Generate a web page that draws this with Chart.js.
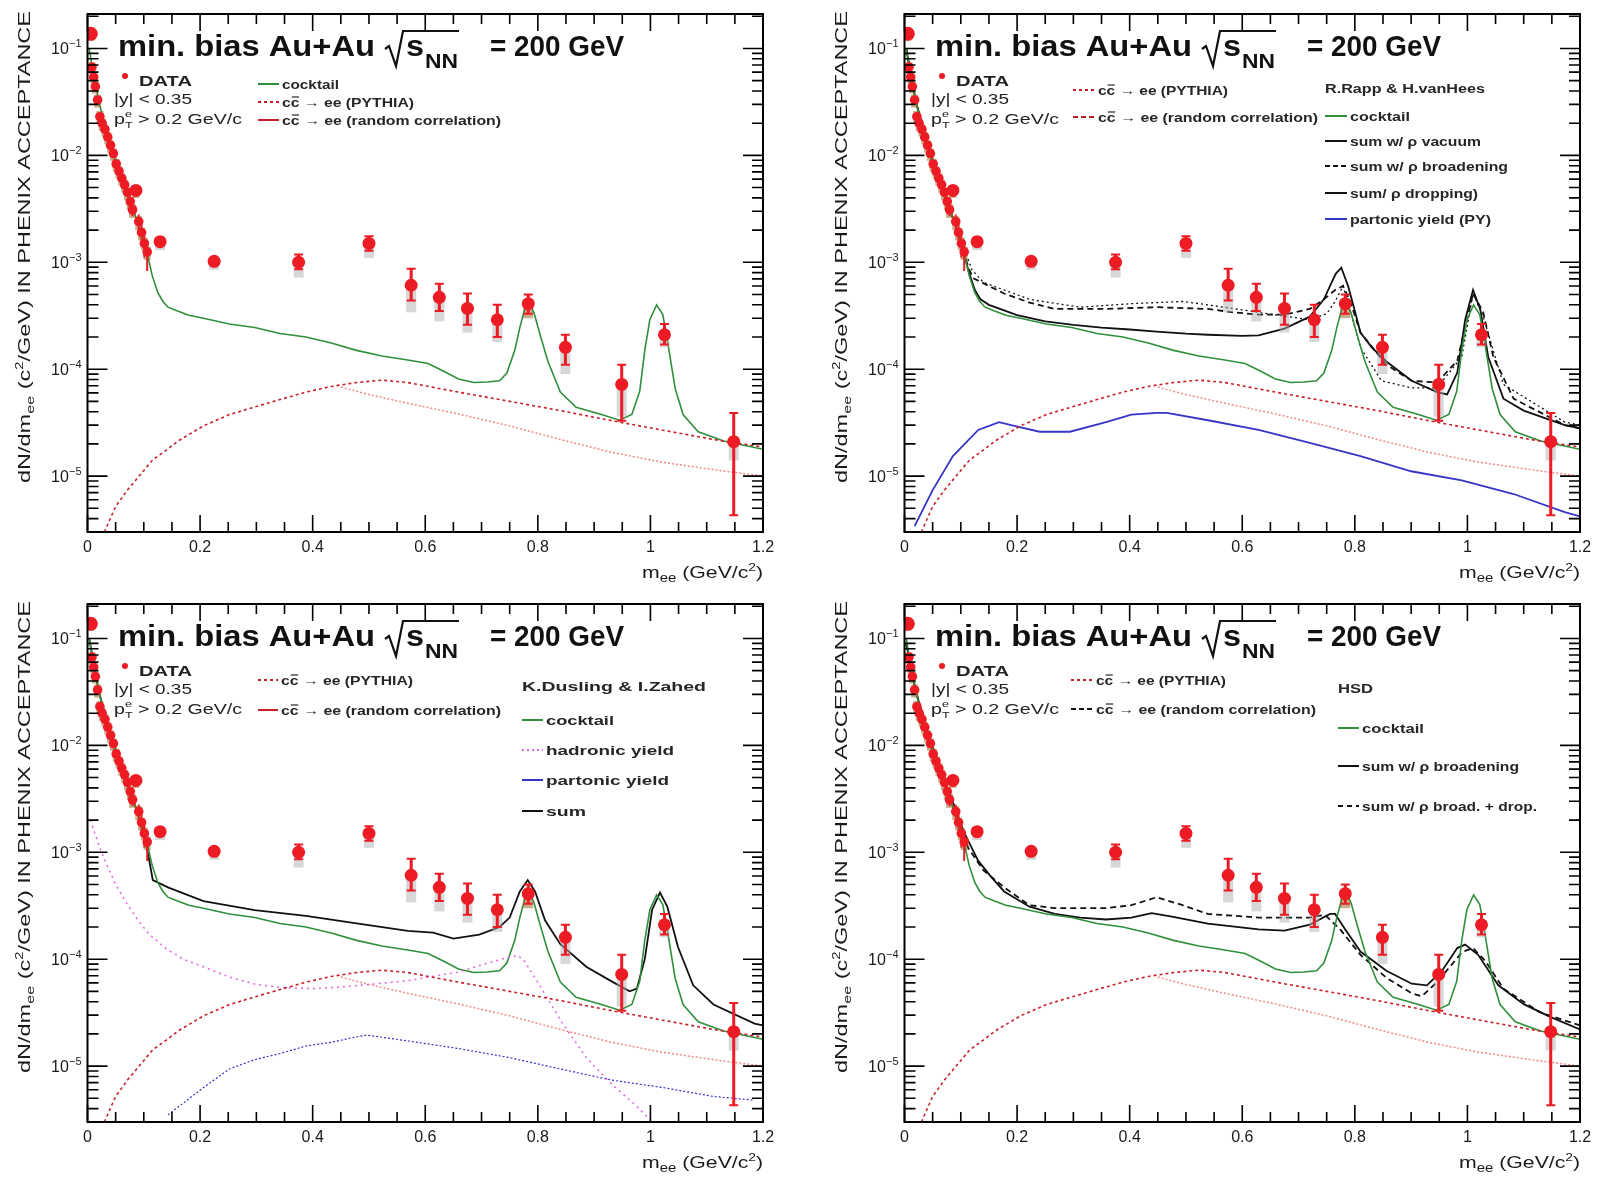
<!DOCTYPE html>
<html>
<head>
<meta charset="utf-8">
<script src="https://cdn.jsdelivr.net/npm/chart.js@4.4.1/dist/chart.umd.min.js"></script>
<style>
html, body { margin: 0; padding: 0; background: #fff; width: 1599px; height: 1183px; overflow: hidden; }
canvas { position: absolute; }
</style>
</head>
<body>
<canvas id="p1" width="782" height="593" style="left:0px;top:0px"></canvas>
<canvas id="p2" width="782" height="593" style="left:817px;top:0px"></canvas>
<canvas id="p3" width="782" height="593" style="left:0px;top:590px"></canvas>
<canvas id="p4" width="782" height="593" style="left:817px;top:590px"></canvas>
<script>
// ---------- measured dielectron yield (shared by all four panels) ----------
const dataMass = [0.006, 0.008, 0.011, 0.014, 0.018, 0.022, 0.026, 0.031, 0.036, 0.041, 0.046, 0.051,
  0.056, 0.061, 0.066, 0.071, 0.076, 0.080, 0.086, 0.091, 0.096, 0.101, 0.106,
  0.129, 0.225, 0.375, 0.500, 0.575, 0.625, 0.675, 0.728, 0.783, 0.849, 0.949, 1.025, 1.148];
const dataYield = [0.137, 0.067, 0.054, 0.044, 0.033, 0.023, 0.020, 0.0175, 0.0148, 0.0124, 0.0104, 0.0083,
  0.0071, 0.0061, 0.0053, 0.0045, 0.0037, 0.0031, 0.0047, 0.0024, 0.0019, 0.0015, 0.00125,
  0.00156, 0.00102, 0.00100, 0.00150, 0.00061, 0.00047, 0.00037, 0.00029, 0.00041, 0.00016, 0.000072, 0.00021, 0.000021];
const statLow = [0.128, 0.063, 0.051, 0.042, 0.031, 0.022, 0.019, 0.0166, 0.0140, 0.0117, 0.0098, 0.0078,
  0.0066, 0.0057, 0.0049, 0.0041, 0.0033, 0.0027, 0.0043, 0.0020, 0.0016, 0.0011, 0.00083,
  0.00145, 0.00095, 0.00086, 0.00128, 0.00044, 0.00035, 0.00026, 0.00020, 0.00033, 0.00011, 0.000033, 0.00017, 0.0000043];
const statHigh = [0.146, 0.071, 0.057, 0.046, 0.035, 0.024, 0.021, 0.0184, 0.0156, 0.0131, 0.0110, 0.0088,
  0.0076, 0.0065, 0.0057, 0.0049, 0.0041, 0.0035, 0.0051, 0.0028, 0.0023, 0.0019, 0.0016,
  0.00168, 0.00109, 0.00118, 0.00175, 0.00087, 0.00063, 0.00051, 0.00040, 0.00050, 0.00021, 0.00011, 0.000265, 0.000039];
const sysLow = [0.118, 0.058, 0.047, 0.038, 0.028, 0.020, 0.017, 0.015, 0.0127, 0.0106, 0.0089, 0.0071,
  0.0061, 0.0052, 0.0045, 0.0038, 0.0031, 0.0026, 0.0040, 0.0020, 0.0016, 0.0013, 0.00105,
  0.0013, 0.00085, 0.00072, 0.0011, 0.00034, 0.00028, 0.00022, 0.00018, 0.00030, 0.00009, 0.000036, 0.00016, 0.000014];
const sysHigh = [0.150, 0.074, 0.060, 0.049, 0.037, 0.026, 0.022, 0.0195, 0.0165, 0.0138, 0.0116, 0.0093,
  0.0079, 0.0068, 0.0059, 0.0050, 0.0041, 0.0035, 0.0052, 0.0027, 0.0021, 0.0017, 0.0014,
  0.0017, 0.0011, 0.0011, 0.0016, 0.00065, 0.0005, 0.0004, 0.00031, 0.00044, 0.00017, 0.000075, 0.00022, 0.000022];

// ---------- model curves: [mass (GeV/c^2), dN/dm_ee] ----------
const cocktail = [[0.003,0.1],[0.01,0.06],[0.02,0.032],[0.03,0.02],[0.04,0.013],[0.05,0.0085],[0.06,0.006],
  [0.07,0.0044],[0.08,0.0032],[0.09,0.0023],[0.1,0.0016],[0.107,0.00115],[0.115,0.00075],[0.125,0.00052],
  [0.134,0.00043],[0.143,0.00038],[0.16,0.00035],[0.18,0.00032],[0.206,0.0003],[0.252,0.000265],[0.297,0.000245],
  [0.342,0.000216],[0.388,0.0002],[0.433,0.000176],[0.478,0.00015],[0.523,0.000133],[0.569,0.000122],[0.605,0.000113],
  [0.632,0.000096],[0.659,0.000081],[0.686,0.000075],[0.71,0.000076],[0.732,0.000078],[0.745,0.000092],[0.759,0.00015],
  [0.768,0.000245],[0.777,0.00037],[0.784,0.000415],[0.793,0.00034],[0.804,0.00021],[0.818,0.000118],[0.84,0.000061],
  [0.868,0.000044],[0.913,0.0000377],[0.945,0.0000333],[0.967,0.0000377],[0.981,0.000062],[0.99,0.00015],[0.999,0.00029],
  [1.011,0.0004],[1.022,0.000324],[1.032,0.000162],[1.044,0.000066],[1.058,0.0000377],[1.085,0.000026],[1.13,0.0000213],[1.2,0.0000178]];
const charmPythia = [[0.03,0.000003],[0.05,0.0000052],[0.071,0.0000074],[0.095,0.0000105],[0.116,0.0000142],[0.14,0.0000175],
  [0.161,0.0000213],[0.206,0.0000295],[0.252,0.0000376],[0.297,0.0000443],[0.342,0.000052],[0.388,0.000061],[0.433,0.000069],
  [0.478,0.000075],[0.523,0.000079],[0.569,0.000075],[0.659,0.000061],[0.75,0.00005],[0.84,0.000041],[0.931,0.000033],
  [1.02,0.000027],[1.112,0.000022],[1.2,0.0000187]];
const charmRandom = [[0.45,0.000068],[0.5,0.000058],[0.569,0.000048],[0.66,0.000038],[0.75,0.0000295],[0.84,0.000022],
  [0.931,0.0000167],[1.02,0.0000135],[1.112,0.0000115],[1.2,0.00001]];

// R.Rapp & H.vanHees
const rappVacuum = [[0.003,0.1],[0.02,0.032],[0.04,0.013],[0.06,0.006],[0.08,0.0032],[0.1,0.0016],[0.113,0.00085],
  [0.125,0.00055],[0.135,0.00045],[0.15,0.0004],[0.2,0.00032],[0.25,0.00028],[0.3,0.00026],[0.35,0.000245],[0.4,0.000235],
  [0.448,0.000225],[0.5,0.000215],[0.539,0.00021],[0.6,0.000205],[0.629,0.000207],[0.675,0.00024],[0.72,0.00031],[0.745,0.00045],
  [0.756,0.0006],[0.766,0.00078],[0.776,0.00089],[0.788,0.0006],[0.8,0.00035],[0.81,0.00022],[0.83,0.00016],[0.856,0.000118],
  [0.901,0.000078],[0.946,0.000061],[0.964,0.000058],[0.982,0.000093],[0.996,0.00029],[1.01,0.00055],[1.023,0.00036],
  [1.037,0.00013],[1.064,0.000053],[1.1,0.000041],[1.173,0.00003],[1.2,0.000028]];
const rappBroad = [[0.003,0.1],[0.02,0.032],[0.04,0.013],[0.06,0.006],[0.08,0.0032],[0.1,0.0016],[0.113,0.0009],
  [0.122,0.00071],[0.15,0.0006],[0.177,0.00051],[0.222,0.00042],[0.267,0.000366],[0.358,0.000366],[0.448,0.00038],
  [0.539,0.000366],[0.584,0.00034],[0.629,0.000324],[0.675,0.000324],[0.72,0.000366],[0.745,0.00045],[0.765,0.00055],
  [0.779,0.0006],[0.792,0.00043],[0.81,0.00022],[0.856,0.00011],[0.901,0.000078],[0.946,0.000075],[0.982,0.00012],
  [1.0,0.0003],[1.01,0.00051],[1.028,0.00034],[1.046,0.00013],[1.082,0.000053],[1.173,0.00003],[1.2,0.000028]];
const rappDropping = [[0.003,0.1],[0.02,0.032],[0.04,0.013],[0.06,0.006],[0.08,0.0032],[0.1,0.0016],[0.12,0.00085],
  [0.14,0.00065],[0.222,0.00045],[0.312,0.00038],[0.403,0.00041],[0.494,0.00043],[0.539,0.0004],[0.629,0.00034],
  [0.72,0.00029],[0.75,0.00033],[0.765,0.00043],[0.779,0.0006],[0.79,0.00038],[0.81,0.00016],[0.847,0.000078],
  [0.9,0.000067],[0.946,0.000067],[0.99,0.00013],[1.01,0.00051],[1.028,0.00031],[1.064,0.000072],[1.173,0.000032],[1.2,0.00003]];
const rappPartonic = [[0.018,0.0000034],[0.05,0.0000074],[0.086,0.0000154],[0.131,0.000027],[0.168,0.000032],
  [0.195,0.0000295],[0.24,0.000026],[0.294,0.000026],[0.358,0.000032],[0.403,0.0000376],[0.448,0.000039],[0.466,0.000039],
  [0.539,0.0000333],[0.629,0.000027],[0.72,0.0000204],[0.81,0.0000154],[0.9,0.0000111],[0.99,0.0000091],[1.082,0.0000068],
  [1.173,0.0000046],[1.2,0.0000042]];

// K.Dusling & I.Zahed
const dusSum = [[0.003,0.1],[0.02,0.032],[0.04,0.013],[0.06,0.006],[0.08,0.0032],[0.1,0.0016],[0.116,0.00055],
  [0.143,0.00047],[0.206,0.00035],[0.297,0.000287],[0.388,0.000254],[0.478,0.000216],[0.569,0.000184],[0.614,0.000177],
  [0.65,0.000156],[0.696,0.00017],[0.732,0.0002],[0.75,0.000245],[0.768,0.00043],[0.782,0.00055],[0.795,0.00043],
  [0.813,0.00023],[0.84,0.000138],[0.886,0.000085],[0.931,0.000062],[0.963,0.00005],[0.976,0.000053],[0.99,0.0001],
  [1.003,0.00029],[1.017,0.00042],[1.03,0.00031],[1.049,0.00013],[1.076,0.000057],[1.112,0.0000377],[1.185,0.000025],[1.2,0.000024]];
const dusHadronic = [[0.005,0.002],[0.015,0.0014],[0.025,0.001],[0.035,0.00075],[0.05,0.0005],[0.07,0.00033],
  [0.09,0.00023],[0.11,0.00017],[0.14,0.000125],[0.17,0.0001],[0.206,0.000085],[0.252,0.000068],[0.3,0.000058],
  [0.35,0.000054],[0.4,0.000053],[0.45,0.000055],[0.5,0.000058],[0.569,0.000063],[0.62,0.00007],[0.66,0.000076],
  [0.705,0.00009],[0.75,0.000105],[0.765,0.000108],[0.777,0.000095],[0.804,0.000056],[0.84,0.000027],[0.886,0.000012],
  [0.931,0.0000068],[0.976,0.0000042],[1.003,0.000003]];
const dusPartonic = [[0.143,0.0000035],[0.206,0.0000063],[0.252,0.0000094],[0.297,0.0000115],[0.342,0.0000131],
  [0.388,0.0000154],[0.433,0.0000167],[0.478,0.0000188],[0.496,0.0000195],[0.569,0.0000172],[0.659,0.0000146],
  [0.75,0.000012],[0.84,0.0000094],[0.931,0.0000074],[1.022,0.0000063],[1.112,0.0000052],[1.185,0.0000048]];

// HSD
const hsdBroad = [[0.003,0.09],[0.02,0.032],[0.04,0.014],[0.06,0.0068],[0.08,0.0036],[0.104,0.0016],[0.131,0.00083],
  [0.155,0.00058],[0.177,0.00043],[0.222,0.00031],[0.267,0.000265],[0.312,0.000245],[0.358,0.000235],[0.403,0.000245],
  [0.439,0.00027],[0.475,0.00025],[0.539,0.000215],[0.629,0.00019],[0.675,0.000185],[0.72,0.00021],[0.756,0.000265],
  [0.765,0.000265],[0.783,0.00019],[0.81,0.000118],[0.856,0.000078],[0.901,0.000059],[0.928,0.000057],[0.955,0.000078],
  [0.982,0.000127],[0.996,0.000137],[1.019,0.00011],[1.055,0.000057],[1.1,0.000038],[1.146,0.000029],[1.2,0.000022]];
const hsdBroadDrop = [[0.003,0.09],[0.02,0.032],[0.04,0.014],[0.06,0.0068],[0.08,0.0036],[0.104,0.0016],[0.113,0.0011],
  [0.14,0.00068],[0.177,0.00047],[0.222,0.00032],[0.267,0.0003],[0.358,0.0003],[0.403,0.00032],[0.448,0.00038],
  [0.494,0.00032],[0.539,0.000265],[0.629,0.000245],[0.72,0.000245],[0.747,0.00026],[0.774,0.00019],[0.81,0.00011],
  [0.856,0.000067],[0.901,0.000048],[0.919,0.000045],[0.946,0.000061],[0.991,0.000117],[1.01,0.000127],[1.032,0.000096],
  [1.064,0.000053],[1.128,0.000032],[1.2,0.000024]];

// ---------- axis tick labels ----------
const xTickValues = [0, 0.2, 0.4, 0.6, 0.8, 1.0, 1.2];
const xTickLabels = ['0', '0.2', '0.4', '0.6', '0.8', '1', '1.2'];
const yTickExponents = [-1, -2, -3, -4, -5];

// ---------- styling ----------
const FONT = '"Liberation Sans", Arial, Helvetica, sans-serif';
const GREEN = '#2f8f3a', DARKRED = '#c8202a', PINK = '#f08a8a', BLUE = '#3535c8', MAGENTA = '#e064e0', BLACK = '#111111';
const DATA_RED = '#ec1b24';
const W = 782, H = 593;
const AREA = { left: 87.5, right: 763, top: 14, bottom: 532 };

const toPoints = pairs => pairs.map(p => ({ x: p[0], y: p[1] }));
function curve(pairs, color, width, dash) {
  return { data: toPoints(pairs), borderColor: color, borderWidth: width, borderDash: dash || [],
           pointRadius: 0, fill: false, tension: 0, order: 2 };
}
function markerRadius(c) {
  const m = dataMass[c.dataIndex];
  if (c.dataIndex === 0) return 7;
  if (m < 0.11) return Math.abs(m - 0.086) < 0.002 ? 6.5 : 4.8;
  return 6.5;
}
function dataSet() {
  return {
    isData: true, order: 0, showLine: false,
    data: dataMass.map((m, i) => ({ x: m, y: dataYield[i] })),
    pointRadius: markerRadius,
    pointBackgroundColor: DATA_RED, pointBorderWidth: 0, pointBorderColor: DATA_RED
  };
}

// ---------- text helpers ----------
function fitText(ctx, txt, x, y, font, width) {
  ctx.font = font;
  const w = ctx.measureText(txt).width;
  const k = width ? width / w : 1;
  ctx.save(); ctx.translate(x, y); ctx.scale(k, 1); ctx.textAlign = 'left'; ctx.textBaseline = 'alphabetic';
  ctx.fillText(txt, 0, 0); ctx.restore();
  return k;
}
// segments: {t, f, dy, noAdv}
function richText(ctx, segs, x, y, width) {
  let total = 0;
  segs.forEach(s => { ctx.font = s.f; s.w = ctx.measureText(s.t).width; if (!s.noAdv) total += s.w; });
  const k = width ? width / total : 1;
  ctx.save(); ctx.translate(x, y); ctx.scale(k, 1); ctx.textAlign = 'left'; ctx.textBaseline = 'alphabetic';
  let cx = 0;
  segs.forEach(s => { ctx.font = s.f; ctx.fillText(s.t, cx, s.dy || 0); if (!s.noAdv) cx += s.w; });
  ctx.restore();
}
// "cc → ee ..." with a bar over the second c
function charmText(ctx, txt, x, y, font, width) {
  const k = fitText(ctx, txt, x, y, font, width);
  ctx.font = font;
  const a = ctx.measureText('c').width * k, b = ctx.measureText('cc').width * k;
  ctx.save(); ctx.strokeStyle = ctx.fillStyle; ctx.lineWidth = 1.2;
  ctx.beginPath(); ctx.moveTo(x + a + 1, y - 10); ctx.lineTo(x + b - 0.5, y - 10); ctx.stroke(); ctx.restore();
}
function sampleLine(ctx, x1, x2, y, color, dash, width) {
  ctx.save(); ctx.strokeStyle = color; ctx.lineWidth = width || 2; ctx.setLineDash(dash || []);
  ctx.beginPath(); ctx.moveTo(x1, y); ctx.lineTo(x2, y); ctx.stroke(); ctx.restore();
}

const LFONT = 'bold 13px ' + FONT;

// ---------- legend layouts for each panel ----------
const legends = {
  p1: [
    { line: [258, 279, GREEN, []], text: 'cocktail', x: 282, y: 89, w: 57 },
    { line: [258, 279, DARKRED, [3, 3]], charm: 'cc → ee (PYTHIA)', x: 282, y: 107, w: 132 },
    { line: [258, 279, DARKRED, []], charm: 'cc → ee (random correlation)', x: 282, y: 125, w: 219 }
  ],
  p2: [
    { line: [256, 278, DARKRED, [3, 3]], charm: 'cc → ee (PYTHIA)', x: 281, y: 95, w: 130 },
    { line: [256, 278, DARKRED, [5, 3]], charm: 'cc → ee (random correlation)', x: 281, y: 122, w: 220 },
    { text: 'R.Rapp & H.vanHees', x: 508, y: 93, w: 160 },
    { line: [508, 530, GREEN, []], text: 'cocktail', x: 533, y: 121, w: 60 },
    { line: [508, 530, BLACK, []], text: 'sum w/ ρ vacuum', x: 533, y: 146, w: 131 },
    { line: [508, 530, BLACK, [5, 3]], text: 'sum w/ ρ broadening', x: 533, y: 171, w: 158 },
    { line: [508, 530, BLACK, []], text: 'sum/ ρ dropping)', x: 533, y: 198, w: 128 },
    { line: [508, 530, BLUE, []], text: 'partonic yield (PY)', x: 533, y: 224, w: 141 }
  ],
  p3: [
    { line: [258, 278, DARKRED, [3, 3]], charm: 'cc → ee (PYTHIA)', x: 281, y: 95, w: 132 },
    { line: [258, 278, DARKRED, []], charm: 'cc → ee (random correlation)', x: 281, y: 125, w: 220 },
    { text: 'K.Dusling & I.Zahed', x: 522, y: 101, w: 184 },
    { line: [522, 543, GREEN, []], text: 'cocktail', x: 546, y: 135, w: 68 },
    { line: [522, 543, MAGENTA, [2, 3]], text: 'hadronic yield', x: 546, y: 165, w: 128 },
    { line: [522, 543, BLUE, []], text: 'partonic yield', x: 546, y: 195, w: 123 },
    { line: [522, 543, BLACK, []], text: 'sum', x: 546, y: 226, w: 40 }
  ],
  p4: [
    { line: [254, 276, DARKRED, [3, 3]], charm: 'cc → ee (PYTHIA)', x: 279, y: 95, w: 130 },
    { line: [254, 276, BLACK, [5, 3]], charm: 'cc → ee (random correlation)', x: 279, y: 124, w: 220 },
    { text: 'HSD', x: 521, y: 103, w: 35 },
    { line: [521, 542, GREEN, []], text: 'cocktail', x: 545, y: 143, w: 62 },
    { line: [521, 542, BLACK, []], text: 'sum w/ ρ broadening', x: 545, y: 181, w: 157 },
    { line: [521, 542, BLACK, [5, 4]], text: 'sum w/ ρ broad. + drop.', x: 545, y: 221, w: 175 }
  ]
};

// ---------- decorations drawn through the chart's own scales ----------
const decor = {
  id: 'decor',
  beforeDatasetDraw(chart, args) {
    const ds = chart.data.datasets[args.index];
    if (!ds.isData) return;
    const ctx = chart.ctx, xs = chart.scales.x, ys = chart.scales.y, a = chart.chartArea;
    ctx.save();
    ctx.beginPath(); ctx.rect(a.left, a.top, a.right - a.left, a.bottom - a.top); ctx.clip();
    dataMass.forEach((m, i) => {
      const px = xs.getPixelForValue(m);
      const low = m < 0.11, omega = Math.abs(m - 0.783) < 0.01;
      // systematic band
      const sTop = ys.getPixelForValue(sysHigh[i]), sBot = ys.getPixelForValue(sysLow[i]);
      ctx.fillStyle = (low || omega) ? 'rgba(150,95,30,0.5)' : 'rgba(175,175,175,0.5)';
      const bw = low ? 7 : 10;
      ctx.fillRect(px - bw / 2, sTop, bw, sBot - sTop);
      // statistical error
      const eTop = ys.getPixelForValue(statHigh[i]), eBot = ys.getPixelForValue(statLow[i]);
      ctx.strokeStyle = DATA_RED; ctx.lineWidth = low ? 2 : 3;
      ctx.beginPath(); ctx.moveTo(px, eTop); ctx.lineTo(px, eBot); ctx.stroke();
      if (!low) {
        ctx.lineWidth = 2;
        ctx.beginPath(); ctx.moveTo(px - 4.5, eTop); ctx.lineTo(px + 4.5, eTop);
        ctx.moveTo(px - 4.5, eBot); ctx.lineTo(px + 4.5, eBot); ctx.stroke();
      }
    });
    ctx.restore();
  },
  afterDraw(chart) {
    const ctx = chart.ctx, xs = chart.scales.x, ys = chart.scales.y, a = chart.chartArea;
    ctx.save();
    // frame
    ctx.strokeStyle = '#000'; ctx.lineWidth = 2;
    ctx.strokeRect(a.left, a.top, a.right - a.left, a.bottom - a.top);
    // log ticks on left and right
    ctx.lineWidth = 1.6;
    for (let e = -6; e <= -1; e++) {
      for (let m = 1; m <= 9; m++) {
        const v = m * Math.pow(10, e);
        if (v < ys.min || v > ys.max) continue;
        const py = ys.getPixelForValue(v);
        const len = m === 1 ? 20 : 11;
        ctx.beginPath();
        ctx.moveTo(a.left, py); ctx.lineTo(a.left + len, py);
        ctx.moveTo(a.right, py); ctx.lineTo(a.right - len, py);
        ctx.stroke();
      }
    }
    // linear ticks on bottom and top
    for (let n = 0; n <= 24; n++) {
      const v = n * 0.05;
      const px = xs.getPixelForValue(v);
      const len = n % 4 === 0 ? 17 : 10;
      ctx.beginPath();
      ctx.moveTo(px, a.bottom); ctx.lineTo(px, a.bottom - len);
      ctx.moveTo(px, a.top); ctx.lineTo(px, a.top + len);
      ctx.stroke();
    }
    // tick labels
    ctx.fillStyle = '#1a1a1a';
    ctx.textAlign = 'center'; ctx.textBaseline = 'alphabetic';
    ctx.font = '16px ' + FONT;
    xTickValues.forEach((v, i) => {
      ctx.fillText(xTickLabels[i], xs.getPixelForValue(v), a.bottom + 20);
    });
    yTickExponents.forEach(e => {
      const py = ys.getPixelForValue(Math.pow(10, e));
      ctx.textAlign = 'left';
      ctx.font = '16px ' + FONT;
      ctx.fillText('10', 51, py + 6);
      ctx.font = '11px ' + FONT;
      ctx.fillText(String(e).replace('-', '\u2212'), 69, py - 1);
    });
    // axis titles
    ctx.fillStyle = '#1a1a1a';
    richText(ctx, [
      { t: 'm', f: '17px ' + FONT },
      { t: 'ee', f: '12px ' + FONT, dy: 4 },
      { t: ' (GeV/c', f: '17px ' + FONT },
      { t: '2', f: '11px ' + FONT, dy: -7 },
      { t: ')', f: '17px ' + FONT }
    ], 642, a.bottom + 46, 121);
    ctx.save();
    ctx.translate(30, 483); ctx.rotate(-Math.PI / 2);
    richText(ctx, [
      { t: 'dN/dm', f: '16px ' + FONT },
      { t: 'ee', f: '11px ' + FONT, dy: 4 },
      { t: ' (c', f: '16px ' + FONT },
      { t: '2', f: '10px ' + FONT, dy: -7 },
      { t: '/GeV) IN PHENIX ACCEPTANCE', f: '16px ' + FONT }
    ], 0, 0, 472);
    ctx.restore();
    // title
    ctx.fillStyle = '#111';
    fitText(ctx, 'min. bias Au+Au', 118, 56, 'bold 30px ' + FONT, 257);
    ctx.strokeStyle = '#111'; ctx.lineWidth = 2.2; ctx.lineJoin = 'miter';
    ctx.beginPath(); ctx.moveTo(385, 49); ctx.lineTo(389, 46); ctx.lineTo(396, 66); ctx.lineTo(403, 31); ctx.lineTo(459, 31); ctx.stroke();
    fitText(ctx, 's', 406, 56, 'bold 30px ' + FONT, 18);
    fitText(ctx, 'NN', 425, 68, 'bold 20px ' + FONT, 33);
    fitText(ctx, '= 200 GeV', 490, 56, 'bold 30px ' + FONT, 134);
    // data legend block
    ctx.fillStyle = DATA_RED;
    ctx.beginPath(); ctx.arc(125, 76, 3, 0, 2 * Math.PI); ctx.fill();
    ctx.fillStyle = '#222';
    fitText(ctx, 'DATA', 139, 86, 'bold 15px ' + FONT, 53);
    fitText(ctx, '|y| < 0.35', 114, 104, '14px ' + FONT, 78);
    richText(ctx, [
      { t: 'p', f: '14px ' + FONT },
      { t: 'e', f: '9px ' + FONT, dy: -7, noAdv: true },
      { t: 'T', f: '9px ' + FONT, dy: 4 },
      { t: ' > 0.2 GeV/c', f: '14px ' + FONT }
    ], 114, 124, 128);
    // model legend
    (legends[chart.canvas.id] || []).forEach(it => {
      if (it.line) sampleLine(ctx, it.line[0], it.line[1], it.y - 5, it.line[2], it.line[3], 2);
      ctx.fillStyle = '#262626';
      if (it.charm) charmText(ctx, it.charm, it.x, it.y, LFONT, it.w);
      else fitText(ctx, it.text, it.x, it.y, LFONT, it.w);
    });
    ctx.restore();
  }
};

function makeChart(id, curves) {
  const datasets = curves.concat([dataSet()]);
  return new Chart(document.getElementById(id), {
    type: 'line',
    data: { datasets },
    options: {
      responsive: false, animation: false, devicePixelRatio: 1,
      layout: { padding: { left: 0, right: W - AREA.right, top: AREA.top, bottom: 0 } },
      plugins: { legend: { display: false }, tooltip: { enabled: false } },
      scales: {
        x: { type: 'linear', min: 0, max: 1.2, grid: { display: false }, border: { display: false },
             ticks: { display: false }, afterFit(s) { s.height = H - AREA.bottom; } },
        y: { type: 'logarithmic', min: 3e-6, max: 0.21, grid: { display: false }, border: { display: false },
             ticks: { display: false }, afterFit(s) { s.width = AREA.left; } }
      }
    },
    plugins: [decor]
  });
}

makeChart('p1', [
  curve(charmRandom, PINK, 1.5, [2, 2]),
  curve(charmPythia, DARKRED, 1.6, [3, 3]),
  curve(cocktail, GREEN, 1.6)
]);
makeChart('p2', [
  curve(charmRandom, PINK, 1.5, [2, 2]),
  curve(charmPythia, DARKRED, 1.6, [3, 3]),
  curve(rappPartonic, BLUE, 1.8),
  curve(cocktail, GREEN, 1.6),
  curve(rappDropping, BLACK, 1.3, [2, 3]),
  curve(rappBroad, BLACK, 1.8, [6, 4]),
  curve(rappVacuum, BLACK, 1.8)
]);
makeChart('p3', [
  curve(charmRandom, PINK, 1.5, [2, 2]),
  curve(charmPythia, DARKRED, 1.6, [3, 3]),
  curve(dusPartonic, BLUE, 1.2, [2, 2]),
  curve(dusHadronic, MAGENTA, 1.5, [2, 4]),
  curve(cocktail, GREEN, 1.6),
  curve(dusSum, BLACK, 1.8)
]);
makeChart('p4', [
  curve(charmRandom, PINK, 1.5, [2, 2]),
  curve(charmPythia, DARKRED, 1.6, [3, 3]),
  curve(cocktail, GREEN, 1.6),
  curve(hsdBroadDrop, BLACK, 1.8, [6, 4]),
  curve(hsdBroad, BLACK, 1.8)
]);
</script>
</body>
</html>
